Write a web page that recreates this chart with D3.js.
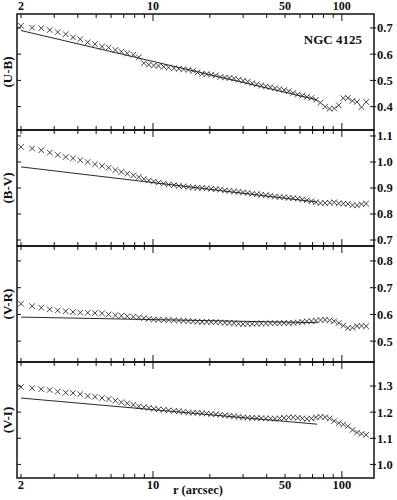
<!DOCTYPE html>
<html><head><meta charset="utf-8">
<script src="https://cdn.jsdelivr.net/npm/d3@7"></script>
<style>body{margin:0;background:#fff}svg{display:block}</style>
</head><body><svg id="c" width="397" height="500"></svg>
<script>
// ---- data ----
const radius = [2.00,2.29,2.56,2.84,3.13,3.45,3.77,4.12,4.51,4.93,5.37,5.82,6.32,6.80,7.31,7.87,8.41,8.94,9.50,10.1,
  10.7,11.4,12.1,12.9,13.7,14.5,15.4,16.3,17.2,18.2,19.24,20.34,21.50,22.73,24.03,25.40,26.85,28.38,30.00,31.71,
  33.52,35.44,37.46,39.60,41.86,44.25,46.78,49.45,52.28,55.26,58.42,61.75,65.28,69.01,72.95,77.11,81.52,86.17,91.09,96.30,
  101.8,107.6,113.8,120.3,127.1,134.4];
const ubValues = [0.708,0.701,0.699,0.692,0.684,0.676,0.664,0.657,0.645,0.638,0.629,0.625,0.616,0.610,0.603,0.598,0.588,0.566,0.560,0.557,
  0.555,0.552,0.549,0.546,0.544,0.543,0.540,0.537,0.530,0.525,0.524,0.522,0.519,0.513,0.511,0.509,0.507,0.503,0.499,0.495,
  0.489,0.485,0.481,0.477,0.474,0.470,0.467,0.463,0.459,0.452,0.446,0.442,0.437,0.433,0.426,0.415,0.400,0.392,0.393,0.405,
  0.432,0.433,0.422,0.418,0.398,0.418];
const bvValues = [1.058,1.052,1.045,1.036,1.027,1.019,1.014,1.007,1.000,0.991,0.985,0.978,0.969,0.962,0.955,0.949,0.942,0.935,0.929,0.925,
  0.921,0.917,0.913,0.911,0.908,0.906,0.904,0.902,0.901,0.900,0.899,0.897,0.896,0.894,0.891,0.889,0.887,0.885,0.883,0.881,
  0.878,0.876,0.874,0.872,0.870,0.867,0.865,0.864,0.862,0.861,0.859,0.856,0.853,0.849,0.845,0.842,0.842,0.843,0.845,0.841,
  0.840,0.839,0.834,0.833,0.838,0.840];
const vrValues = [0.640,0.631,0.625,0.619,0.615,0.612,0.609,0.607,0.606,0.605,0.604,0.600,0.597,0.595,0.593,0.591,0.589,0.586,0.583,0.581,
  0.580,0.579,0.579,0.578,0.577,0.576,0.575,0.574,0.573,0.572,0.572,0.571,0.571,0.570,0.569,0.568,0.567,0.565,0.564,0.565,
  0.565,0.566,0.566,0.566,0.567,0.567,0.567,0.568,0.568,0.569,0.570,0.572,0.574,0.575,0.577,0.579,0.580,0.578,0.575,0.568,
  0.558,0.549,0.550,0.556,0.557,0.556];
const viValues = [1.296,1.292,1.288,1.285,1.279,1.275,1.273,1.269,1.262,1.259,1.254,1.250,1.244,1.238,1.234,1.228,1.222,1.219,1.216,1.213,
  1.211,1.209,1.207,1.205,1.203,1.201,1.199,1.198,1.197,1.196,1.195,1.193,1.192,1.190,1.188,1.186,1.184,1.182,1.180,1.179,
  1.178,1.177,1.177,1.176,1.176,1.175,1.176,1.178,1.180,1.180,1.178,1.176,1.174,1.176,1.180,1.182,1.180,1.176,1.166,1.158,
  1.153,1.146,1.132,1.122,1.117,1.113];
const fitRadius = [2, 74];
const ubFit = [0.690, 0.426];
const bvFit = [0.981, 0.846];
const vrFit = [0.590, 0.569];
const viFit = [1.254, 1.154];
const panelNames = ["(U-B)", "(B-V)", "(V-R)", "(V-I)"];
const ubTicks = [0.4, 0.5, 0.6, 0.7];
const bvTicks = [0.7, 0.8, 0.9, 1.0, 1.1];
const vrTicks = [0.5, 0.6, 0.7, 0.8];
const viTicks = [1.0, 1.1, 1.2, 1.3];
const ubDomain = [0.311, 0.753];
const bvDomain = [0.677, 1.123];
const vrDomain = [0.422, 0.856];
const viDomain = [0.948, 1.392];
const xDomain = [1.905, 148];
const xTickLabels = [2, 10, 50, 100];
const xMajorTicks = [10, 100];
const xMinorTicks = [2,3,4,5,6,7,8,9,20,30,40,50,60,70,80,90];
const title = "NGC 4125";
const xTitle = "r (arcsec)";

// ---- drawing ----
const svg = d3.select("#c");
const L = 17, R = 374, T = 14, PH = 116;
const font = "'Liberation Serif','Times New Roman',serif";
const x = d3.scaleLog().domain(xDomain).range([L, R]);
const panels = [
  {name: panelNames[0], vals: ubValues, fit: ubFit, ticks: ubTicks, dom: ubDomain},
  {name: panelNames[1], vals: bvValues, fit: bvFit, ticks: bvTicks, dom: bvDomain},
  {name: panelNames[2], vals: vrValues, fit: vrFit, ticks: vrTicks, dom: vrDomain},
  {name: panelNames[3], vals: viValues, fit: viFit, ticks: viTicks, dom: viDomain}
];
const ink = "#111";
panels.forEach((p, i) => {
  const top = T + i * PH, bot = top + PH;
  const y = d3.scaleLinear().domain(p.dom).range([bot, top]);
  const g = svg.append("g");
  // fit line
  g.append("path")
    .attr("d", d3.line().x(d => x(d[0])).y(d => y(d[1]))(fitRadius.map((r, k) => [r, p.fit[k]])))
    .attr("stroke", ink).attr("stroke-width", 0.9).attr("fill", "none");
  // crosses
  const s = 2.8;
  g.selectAll("path.pt").data(radius.map((r, k) => [r, p.vals[k]])).join("path")
    .attr("class", "pt")
    .attr("transform", d => `translate(${x(d[0])},${y(d[1])})`)
    .attr("d", `M${-s},${-s}L${s},${s}M${-s},${s}L${s},${-s}`)
    .attr("stroke", "#222").attr("stroke-width", 0.85).attr("fill", "none");
  // frame
  g.append("rect").attr("x", L).attr("y", top).attr("width", R - L).attr("height", PH)
    .attr("fill", "none").attr("stroke", ink).attr("stroke-width", 1.5);
  // x ticks (top & bottom, inward)
  const tk = (v, len) => {
    g.append("line").attr("x1", x(v)).attr("x2", x(v)).attr("y1", top).attr("y2", top + len)
      .attr("stroke", ink).attr("stroke-width", 1);
    g.append("line").attr("x1", x(v)).attr("x2", x(v)).attr("y1", bot).attr("y2", bot - len)
      .attr("stroke", ink).attr("stroke-width", 1);
  };
  xMinorTicks.forEach(v => tk(v, 4));
  xMajorTicks.forEach(v => tk(v, 7));
  // y ticks right and left
  p.ticks.forEach(v => {
    g.append("line").attr("x1", R - 4).attr("x2", R + 2).attr("y1", y(v)).attr("y2", y(v))
      .attr("stroke", ink).attr("stroke-width", 1);
    g.append("line").attr("x1", L).attr("x2", L + 4).attr("y1", y(v)).attr("y2", y(v))
      .attr("stroke", ink).attr("stroke-width", 1);
    g.append("text").attr("x", R + 3).attr("y", y(v)).attr("dy", "0.35em")
      .attr("font-family", font).attr("font-weight", "bold").attr("font-size", 12.5)
      .attr("fill", ink).text(d3.format(".1f")(v));
  });
  // y label
  g.append("text").attr("transform", `translate(12,${(top + bot) / 2}) rotate(-90)`)
    .attr("text-anchor", "middle").attr("font-family", font).attr("font-weight", "bold")
    .attr("font-size", 13).attr("fill", ink).text(p.name);
});
// x tick labels top & bottom
xTickLabels.forEach(v => {
  svg.append("text").attr("x", x(v)).attr("y", 10).attr("text-anchor", "middle")
    .attr("font-family", font).attr("font-weight", "bold").attr("font-size", 12).attr("fill", ink).text(v);
  svg.append("text").attr("x", x(v)).attr("y", 489).attr("text-anchor", "middle")
    .attr("font-family", font).attr("font-weight", "bold").attr("font-size", 12.5).attr("fill", ink).text(v);
});
svg.append("text").attr("x", 198).attr("y", 494).attr("text-anchor", "middle")
  .attr("font-family", font).attr("font-weight", "bold").attr("font-size", 12.5).attr("fill", ink).text(xTitle);
svg.append("text").attr("x", 362).attr("y", 43.5).attr("text-anchor", "end")
  .attr("font-family", font).attr("font-weight", "bold").attr("font-size", 13).attr("fill", ink).text(title);
</script></body></html>
